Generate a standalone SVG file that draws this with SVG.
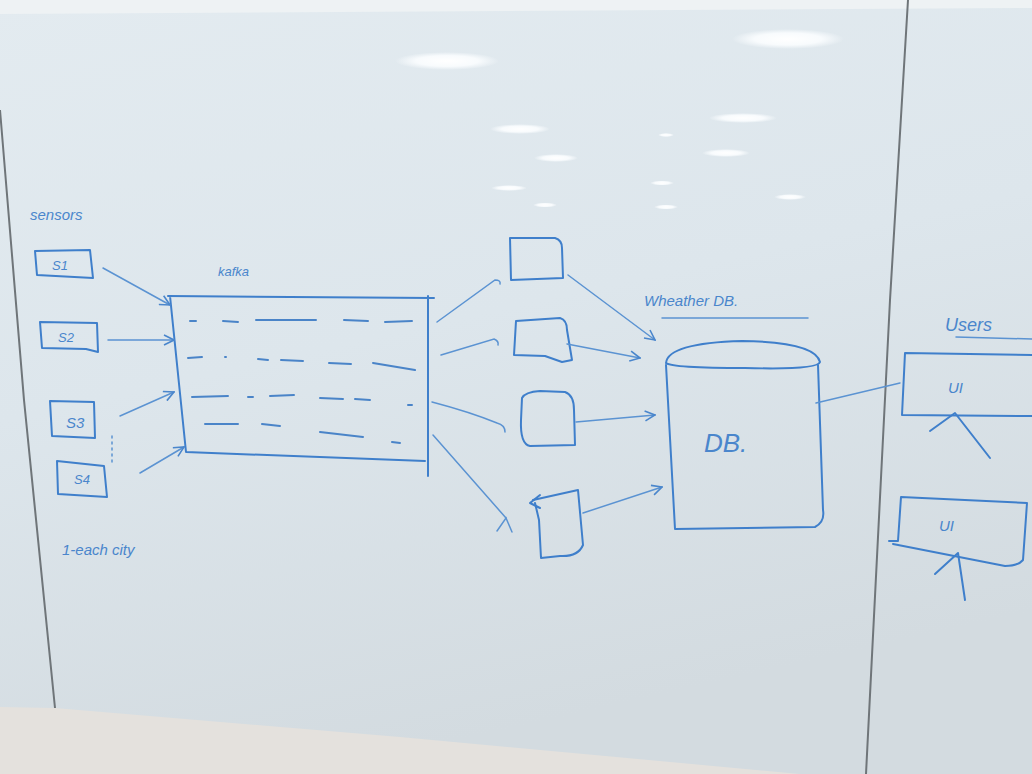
<svg xmlns="http://www.w3.org/2000/svg" width="1032" height="774" viewBox="0 0 1032 774">
<defs>
<linearGradient id="bg" x1="0" y1="0" x2="0.3" y2="1">
<stop offset="0" stop-color="#e3ebf0"/>
<stop offset="0.5" stop-color="#dde6ec"/>
<stop offset="1" stop-color="#d3dbe0"/>
</linearGradient>
<radialGradient id="glow" cx="0.5" cy="0.5" r="0.5">
<stop offset="0" stop-color="#ffffff"/>
<stop offset="0.6" stop-color="#f8fbfd"/>
<stop offset="1" stop-color="#f8fbfd" stop-opacity="0"/>
</radialGradient>
<marker id="ah" viewBox="0 0 12 12" refX="11" refY="6" markerWidth="12" markerHeight="12" markerUnits="userSpaceOnUse" orient="auto">
<path d="M1,1 L11,6 L1,11" fill="none" stroke="#4a86cc" stroke-width="1.6"/>
</marker>
<style>
.ink{fill:none;stroke:#3f7fcb;stroke-width:2;stroke-linecap:round;stroke-linejoin:round}
.thin{fill:none;stroke:#5b93d2;stroke-width:1.5;stroke-linecap:round}
.dash{fill:none;stroke:#4a84c8;stroke-width:2;stroke-linecap:round}
.t{font-family:"Liberation Sans","DejaVu Sans",sans-serif;fill:#4a86cc;font-style:italic}
.frame{fill:none;stroke:#6f7579;stroke-width:2}
</style>
</defs>
<rect x="0" y="0" width="1032" height="774" fill="url(#bg)"/>
<polygon points="0,0 1032,0 1032,8 0,14" fill="#eef2f4"/>
<polygon points="0,707 55,708 400,737 800,774 0,774" fill="#e4e1dd"/>
<!-- board edges -->
<path class="frame" d="M0,110 L24,400 L55,708"/>
<path class="frame" d="M908,0 L890,300 L866,774"/>
<!-- ceiling light reflections -->
<g>
<ellipse cx="447" cy="61" rx="52" ry="9" fill="url(#glow)"/>
<ellipse cx="788" cy="39" rx="56" ry="10" fill="url(#glow)"/>
<ellipse cx="520" cy="129" rx="30" ry="5" fill="url(#glow)"/>
<ellipse cx="743" cy="118" rx="34" ry="5" fill="url(#glow)"/>
<ellipse cx="556" cy="158" rx="22" ry="4" fill="url(#glow)"/>
<ellipse cx="726" cy="153" rx="24" ry="4" fill="url(#glow)"/>
<ellipse cx="509" cy="188" rx="18" ry="3" fill="url(#glow)"/>
<ellipse cx="790" cy="197" rx="16" ry="3" fill="url(#glow)"/>
<ellipse cx="662" cy="183" rx="12" ry="2.5" fill="url(#glow)"/>
<ellipse cx="666" cy="207" rx="12" ry="2.5" fill="url(#glow)"/>
<ellipse cx="545" cy="205" rx="12" ry="2.5" fill="url(#glow)"/>
<ellipse cx="666" cy="135" rx="8" ry="2" fill="url(#glow)"/>
</g>

<g id="sensors-label"><text class="t" x="30" y="220" font-size="15">sensors</text></g>

<g id="s1"><path class="ink" d="M35,251 L90,250 L93,278 L37,275 Z"/><text class="t" x="52" y="270" font-size="13">S1</text></g>
<g id="s2"><path class="ink" d="M40,322 L97,323 L98,352 L86,349 L42,348 Z"/><text class="t" x="58" y="342" font-size="13">S2</text></g>
<g id="s3"><path class="ink" d="M50,401 L94,402 L95,438 L52,436 Z"/><text class="t" x="66" y="428" font-size="15">S3</text></g>
<g id="s4"><path class="ink" d="M57,461 L104,466 L107,497 L58,494 Z"/><text class="t" x="74" y="484" font-size="13">S4</text></g>
<g id="sensor-dots"><path class="thin" d="M112,436 L112,466" stroke-dasharray="2 4"/></g>

<g id="kafka">
<text class="t" x="218" y="276" font-size="13">kafka</text>
<path class="ink" d="M168,296 L434,298 M170,296 L186,452 L425,461 M428,296 L428,476" stroke="#3a7dcc" stroke-width="2.5"/>
<path class="dash" d="M190,321 L196,321 M223,321 L238,322 M256,320 L316,320 M344,320 L368,321 M385,322 L412,321
M188,358 L202,357 M225,357 L226,357 M258,359 L268,360 M281,360 L303,361 M329,363 L351,364 M373,363 L415,370
M192,397 L228,396 M248,397 L253,397 M270,396 L294,395 M320,398 L343,399 M355,399 L370,400 M408,405 L412,405
M205,424 L238,424 M262,424 L280,426 M320,432 L363,437 M392,442 L400,443"/>
</g>

<g id="c1"><path class="ink" d="M510,238 L555,238 Q562,240 562,248 L563,278 L511,280 Z"/></g>
<g id="c2"><path class="ink" d="M516,321 L560,318 Q567,320 567,330 L572,360 L562,362 L545,356 L514,355 Z"/></g>
<g id="c3"><path class="ink" d="M522,398 Q525,392 540,391 L565,392 Q574,395 574,410 L575,445 L530,446 Q520,444 521,420 Z"/></g>
<g id="c4"><path class="ink" d="M533,500 L578,490 L583,545 Q578,557 560,556 L541,558 L539,520 L535,503"/><path class="ink" d="M530,503 L540,495 M530,503 L540,508"/></g>

<g id="db">
<text class="t" x="644" y="306" font-size="15">Wheather DB.</text>
<path class="thin" d="M662,318 L808,318"/>
<path class="ink" d="M666,363 Q668,343 742,341 Q815,342 820,362 Q818,370 745,368 Q672,368 666,363 Z"/>
<path class="ink" d="M666,365 L675,529 L815,527 Q825,522 823,510 L818,365"/>
<text class="t" x="704" y="452" font-size="26" font-style="normal">DB.</text>
</g>

<g id="users">
<text class="t" x="945" y="331" font-size="18">Users</text>
<path class="thin" d="M956,337 L1032,339"/>
</g>

<g id="ui1">
<path class="ink" d="M1032,355 L905,353 L902,415 L1032,416"/>
<text class="t" x="948" y="393" font-size="15" font-style="normal">UI</text>
<path class="ink" d="M930,431 L955,413 L990,458"/>
</g>
<g id="ui2">
<path class="ink" d="M889,541 L898,541 L901,497 L1027,503 L1023,560 Q1018,566 1005,566 L893,544"/>
<text class="t" x="939" y="531" font-size="15" font-style="normal">UI</text>
<path class="ink" d="M935,574 L958,553 L965,600"/>
</g>

<g id="label-each-city"><text class="t" x="62" y="555" font-size="15">1-each city</text></g>

<g id="connectors">
<path class="thin" d="M103,268 L170,305" marker-end="url(#ah)"/>
<path class="thin" d="M108,340 L174,340" marker-end="url(#ah)"/>
<path class="thin" d="M120,416 L174,392" marker-end="url(#ah)"/>
<path class="thin" d="M140,473 L184,447" marker-end="url(#ah)"/>

<path class="thin" d="M437,322 L495,280 Q501,280 500,284"/>
<path class="thin" d="M441,355 L494,339 Q499,341 498,345"/>
<path class="thin" d="M432,402 Q470,412 497,423 Q505,425 505,432"/>
<path class="thin" d="M433,435 L506,518"/>
<path class="thin" d="M497,531 L506,518 L512,532"/>

<path class="thin" d="M568,275 L655,340" marker-end="url(#ah)"/>
<path class="thin" d="M567,344 L640,358" marker-end="url(#ah)"/>
<path class="thin" d="M576,422 L655,415" marker-end="url(#ah)"/>
<path class="thin" d="M583,513 L662,487" marker-end="url(#ah)"/>

<path class="thin" d="M816,403 L900,383"/>
</g>
</svg>
